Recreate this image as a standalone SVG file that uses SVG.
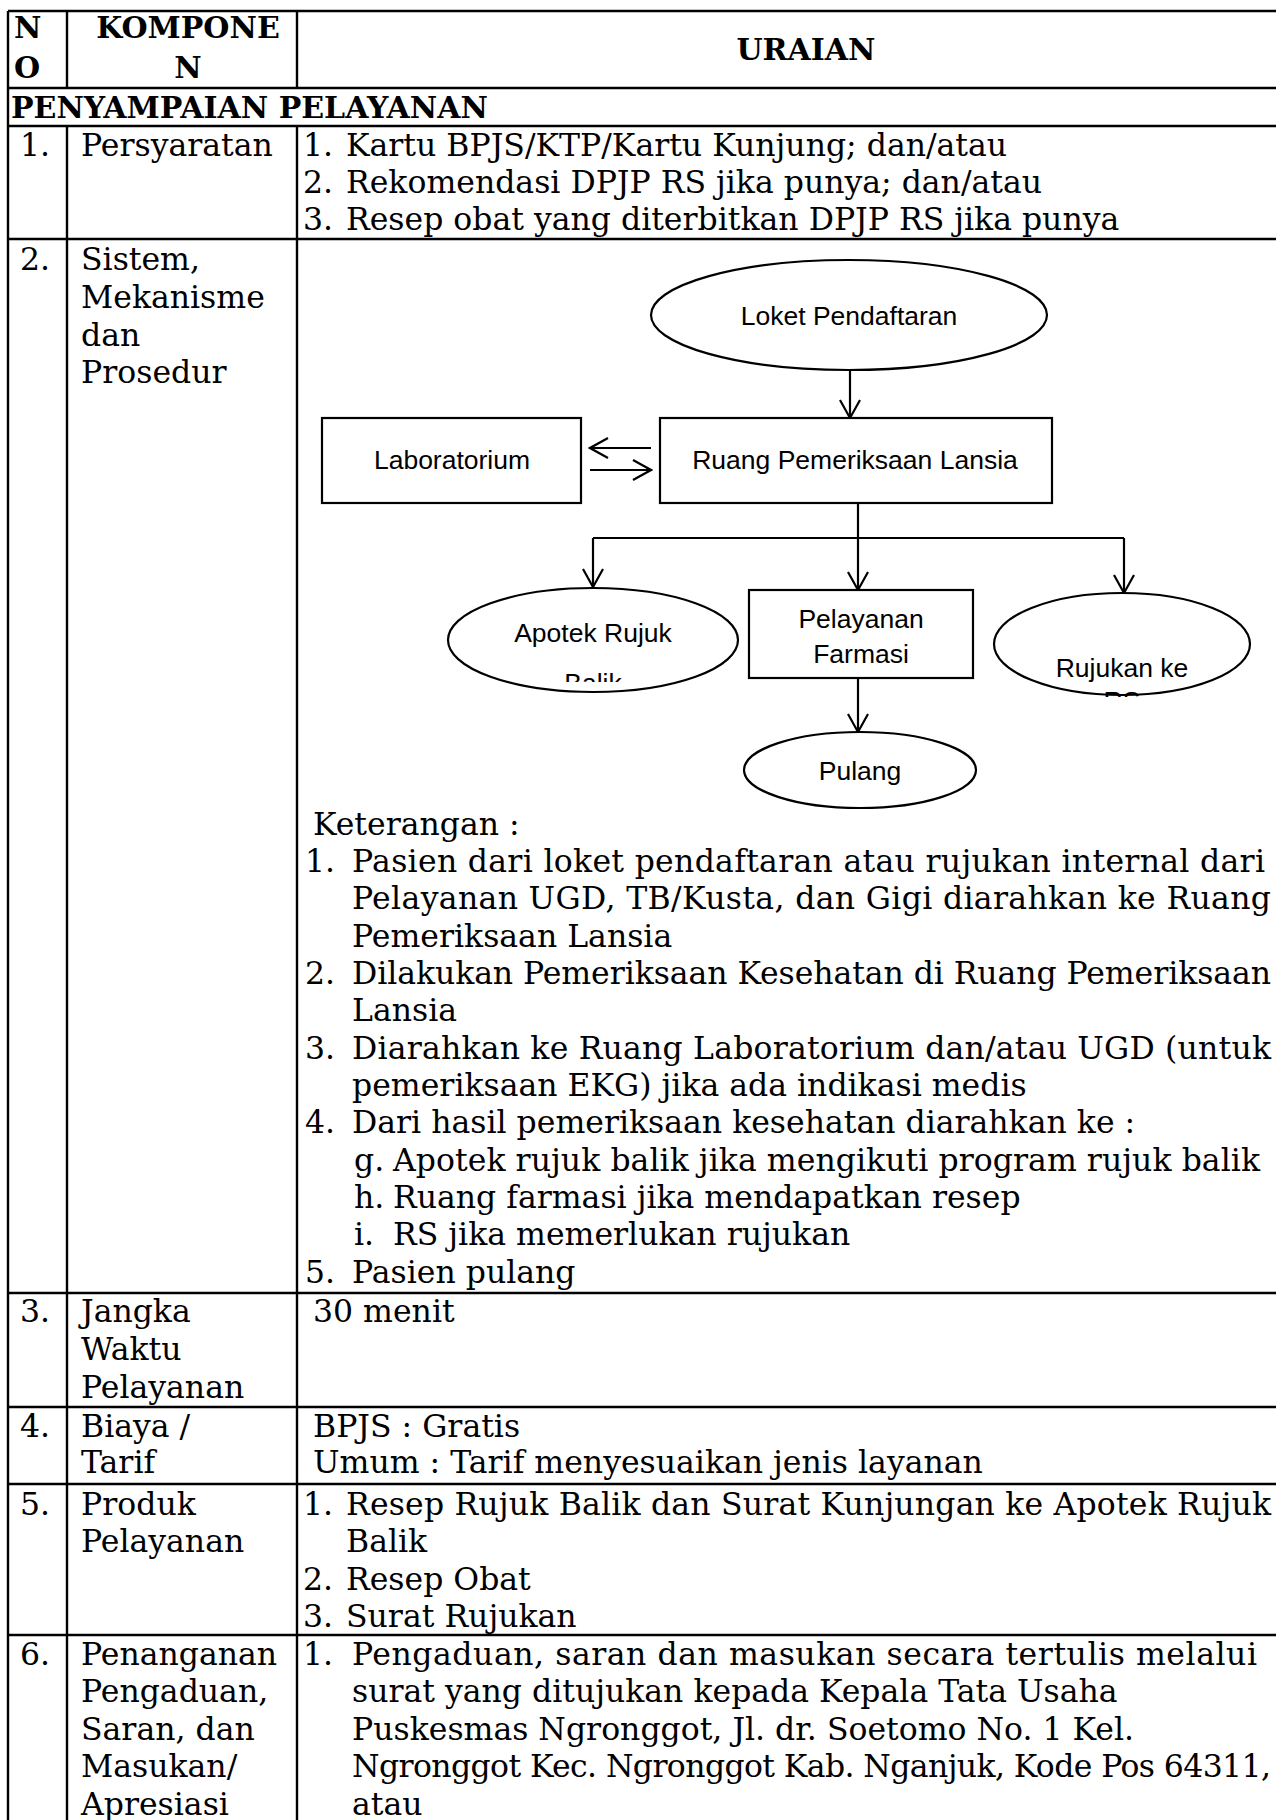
<svg xmlns="http://www.w3.org/2000/svg" width="1276" height="1820" viewBox="0 0 1276 1820">
<style>
.b{font-family:"DejaVu Serif","Liberation Serif",serif;font-size:31.5px;fill:#000}
.h{font-family:"DejaVu Serif","Liberation Serif",serif;font-size:30px;font-weight:bold;fill:#000}
.s{font-family:"Liberation Sans",Arial,sans-serif;font-size:26.5px;fill:#000;text-anchor:middle}
.tl{stroke:#000;stroke-width:2.4;fill:none}
.n{stroke:#000;stroke-width:2.2;fill:#fff}
.c{stroke:#000;stroke-width:2.2;fill:none}
.m{text-anchor:middle}
</style>
<defs>
<marker id="ah" markerUnits="userSpaceOnUse" markerWidth="22" markerHeight="24" viewBox="0 0 22 24" refX="20" refY="12" orient="auto">
<path d="M2,2 L20,12 L2,22" fill="none" stroke="#000" stroke-width="2.2"/>
</marker>
<clipPath id="clipBalik"><rect x="440" y="600" width="310" height="82"/></clipPath>
<clipPath id="clipRS"><rect x="990" y="600" width="270" height="97"/></clipPath>
</defs>
<rect x="0" y="0" width="1276" height="1820" fill="#fff"/>

<g id="table-grid">
<path class="tl" d="M8,11 H1276 M8,88 H1276 M8,126 H1276 M8,239 H1276 M8,1293 H1276 M8,1407 H1276 M8,1484 H1276 M8,1635 H1276"/>
<path class="tl" d="M8,11 V1820 M67,11 V88 M297,11 V88 M67,126 V1820 M297,126 V1820"/>
</g>

<g id="header">
<text class="h" x="14" y="38">N</text>
<text class="h" x="14" y="78">O</text>
<text class="h m" x="188" y="38">KOMPONE</text>
<text class="h m" x="188" y="78">N</text>
<text class="h m" x="806" y="60">URAIAN</text>
<text class="h" x="11" y="118">PENYAMPAIAN PELAYANAN</text>
</g>

<g id="row1">
<text class="b" x="20" y="156">1.</text>
<text class="b" x="81" y="156">Persyaratan</text>
<text class="b" x="303" y="156">1.</text><text class="b" x="346" y="156">Kartu BPJS/KTP/Kartu Kunjung; dan/atau</text>
<text class="b" x="303" y="193">2.</text><text class="b" x="346" y="193">Rekomendasi DPJP RS jika punya; dan/atau</text>
<text class="b" x="303" y="230">3.</text><text class="b" x="346" y="230">Resep obat yang diterbitkan DPJP RS jika punya</text>
</g>

<g id="row2">
<text class="b" x="20" y="270">2.</text>
<text class="b" x="81" y="270">Sistem,</text>
<text class="b" x="81" y="308">Mekanisme</text>
<text class="b" x="81" y="346">dan</text>
<text class="b" x="81" y="383">Prosedur</text>
</g>

<g id="connectors">
<line class="c" x1="850" y1="371" x2="850" y2="418" marker-end="url(#ah)"/>
<line class="c" x1="651" y1="448" x2="590" y2="448" marker-end="url(#ah)"/>
<line class="c" x1="590" y1="470" x2="651" y2="470" marker-end="url(#ah)"/>
<path class="c" d="M858,503 V538 M593,538 H1124"/>
<line class="c" x1="593" y1="538" x2="593" y2="587" marker-end="url(#ah)"/>
<line class="c" x1="858" y1="538" x2="858" y2="590" marker-end="url(#ah)"/>
<line class="c" x1="1124" y1="538" x2="1124" y2="593" marker-end="url(#ah)"/>
<line class="c" x1="858" y1="678" x2="858" y2="732" marker-end="url(#ah)"/>
</g>

<g id="node-loket">
<ellipse class="n" cx="849" cy="315" rx="198" ry="55"/>
<text class="s" x="849" y="325">Loket Pendaftaran</text>
</g>
<g id="node-lab">
<rect class="n" x="322" y="418" width="259" height="85"/>
<text class="s" x="452" y="469">Laboratorium</text>
</g>
<g id="node-ruang">
<rect class="n" x="660" y="418" width="392" height="85"/>
<text class="s" x="855" y="469">Ruang Pemeriksaan Lansia</text>
</g>
<g id="node-apotek">
<ellipse class="n" cx="593" cy="640" rx="145" ry="52"/>
<text class="s" x="593" y="642">Apotek Rujuk</text>
<text class="s" x="593" y="692" clip-path="url(#clipBalik)">Balik</text>
</g>
<g id="node-farmasi">
<rect class="n" x="749" y="590" width="224" height="88"/>
<text class="s" x="861" y="628">Pelayanan</text>
<text class="s" x="861" y="663">Farmasi</text>
</g>
<g id="node-rujukan">
<ellipse class="n" cx="1122" cy="644" rx="128" ry="51"/>
<text class="s" x="1122" y="677">Rujukan ke</text>
<text class="s" x="1122" y="710" clip-path="url(#clipRS)">RS</text>
</g>
<g id="node-pulang">
<ellipse class="n" cx="860" cy="770" rx="116" ry="38"/>
<text class="s" x="860" y="780">Pulang</text>
</g>

<g id="keterangan">
<text class="b" x="313" y="835">Keterangan :</text>
<text class="b" x="305" y="872">1.</text><text class="b" x="352" y="872" textLength="913" lengthAdjust="spacing">Pasien dari loket pendaftaran atau rujukan internal dari</text>
<text class="b" x="352" y="909" textLength="919" lengthAdjust="spacing">Pelayanan UGD, TB/Kusta, dan Gigi diarahkan ke Ruang</text>
<text class="b" x="352" y="947">Pemeriksaan Lansia</text>
<text class="b" x="305" y="984">2.</text><text class="b" x="352" y="984" textLength="919" lengthAdjust="spacing">Dilakukan Pemeriksaan Kesehatan di Ruang Pemeriksaan</text>
<text class="b" x="352" y="1021">Lansia</text>
<text class="b" x="305" y="1059">3.</text><text class="b" x="352" y="1059" textLength="919" lengthAdjust="spacing">Diarahkan ke Ruang Laboratorium dan/atau UGD (untuk</text>
<text class="b" x="352" y="1096">pemeriksaan EKG) jika ada indikasi medis</text>
<text class="b" x="305" y="1133">4.</text><text class="b" x="352" y="1133">Dari hasil pemeriksaan kesehatan diarahkan ke :</text>
<text class="b" x="354" y="1171">g.</text><text class="b" x="393" y="1171" textLength="867" lengthAdjust="spacing">Apotek rujuk balik jika mengikuti program rujuk balik</text>
<text class="b" x="354" y="1208">h.</text><text class="b" x="393" y="1208">Ruang farmasi jika mendapatkan resep</text>
<text class="b" x="354" y="1245">i.</text><text class="b" x="393" y="1245">RS jika memerlukan rujukan</text>
<text class="b" x="305" y="1283">5.</text><text class="b" x="352" y="1283">Pasien pulang</text>
</g>

<g id="row3">
<text class="b" x="20" y="1322">3.</text>
<text class="b" x="81" y="1322">Jangka</text>
<text class="b" x="81" y="1360">Waktu</text>
<text class="b" x="81" y="1398">Pelayanan</text>
<text class="b" x="313" y="1322">30 menit</text>
</g>

<g id="row4">
<text class="b" x="20" y="1437">4.</text>
<text class="b" x="81" y="1437">Biaya /</text>
<text class="b" x="81" y="1473">Tarif</text>
<text class="b" x="313" y="1437">BPJS : Gratis</text>
<text class="b" x="313" y="1473">Umum : Tarif menyesuaikan jenis layanan</text>
</g>

<g id="row5">
<text class="b" x="20" y="1515">5.</text>
<text class="b" x="81" y="1515">Produk</text>
<text class="b" x="81" y="1552">Pelayanan</text>
<text class="b" x="303" y="1515">1.</text><text class="b" x="346" y="1515" textLength="925" lengthAdjust="spacing">Resep Rujuk Balik dan Surat Kunjungan ke Apotek Rujuk</text>
<text class="b" x="346" y="1552">Balik</text>
<text class="b" x="303" y="1590">2.</text><text class="b" x="346" y="1590">Resep Obat</text>
<text class="b" x="303" y="1627">3.</text><text class="b" x="346" y="1627">Surat Rujukan</text>
</g>

<g id="row6">
<text class="b" x="20" y="1665">6.</text>
<text class="b" x="81" y="1665">Penanganan</text>
<text class="b" x="81" y="1702">Pengaduan,</text>
<text class="b" x="81" y="1740">Saran, dan</text>
<text class="b" x="81" y="1777">Masukan/</text>
<text class="b" x="81" y="1815">Apresiasi</text>
<text class="b" x="303" y="1665">1.</text><text class="b" x="352" y="1665" textLength="905" lengthAdjust="spacing">Pengaduan, saran dan masukan secara tertulis melalui</text>
<text class="b" x="352" y="1702">surat yang ditujukan kepada Kepala Tata Usaha</text>
<text class="b" x="352" y="1740">Puskesmas Ngronggot, Jl. dr. Soetomo No. 1 Kel.</text>
<text class="b" x="352" y="1777" textLength="919" lengthAdjust="spacing">Ngronggot Kec. Ngronggot Kab. Nganjuk, Kode Pos 64311,</text>
<text class="b" x="352" y="1815">atau</text>
</g>
</svg>
